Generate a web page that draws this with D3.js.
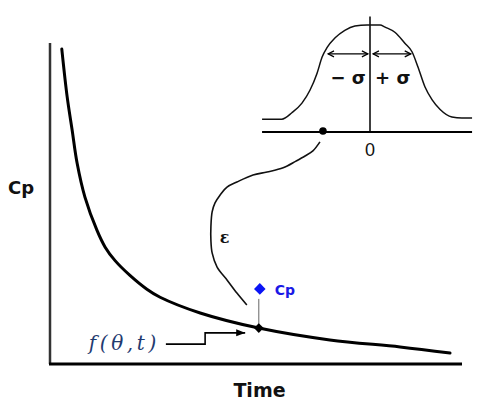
<!DOCTYPE html>
<html><head><meta charset="utf-8">
<script src="https://cdn.jsdelivr.net/npm/d3@7"></script>
<style>body{margin:0;background:#fff}svg{display:block}</style>
</head><body><svg id="chart" width="477" height="403"></svg>
<script>
// Concentration–time decay curve, the model f(θ,t)
const time    = [0.31,0.44,0.56,0.68,0.87,1.16,1.36,1.60,1.96,2.37,2.69,3.66,5.08,6.80,8.50,9.71];
const cpModel = [9.81,8.32,7.29,6.26,5.20,4.17,3.64,3.22,2.76,2.33,2.08,1.59,1.12,0.75,0.53,0.34];

// One observed Cp and its prediction on the curve
const obsTime = [5.08];
const obsCp   = [2.34];
const predCp  = [1.12];

// Residual error distribution, in σ units, with the sampled ε
const errZ       = [-2.57,-2.10,-1.86,-1.62,-1.43,-1.26,-1.14,-1.02,-0.83,-0.60,-0.36,-0.07,0.24,0.36,0.60,0.83,1.00,1.14,1.31,1.48,1.67,1.95,2.19,2.43];
const errDensity = [0.12,0.12,0.18,0.27,0.39,0.55,0.70,0.79,0.88,0.95,0.99,1.00,1.00,0.98,0.93,0.83,0.75,0.61,0.42,0.30,0.21,0.14,0.13,0.13];
const errPick    = [-1.12];
const sigmaLevel = [0.73];
const sigmaLabels = ["\u2212 \u03c3", "+ \u03c3"];
const zeroLabel  = ["0"];

// Path carrying ε from the distribution down to the observation
const epsTime = [6.56,6.39,6.20,5.98,5.67,5.28,4.94,4.55,4.31,4.14,4.02,3.95,3.92,3.92,3.95,4.07,4.31,4.55,4.79];
const epsCp   = [6.92,6.64,6.48,6.32,6.11,5.98,5.89,5.67,5.51,5.26,5.02,4.74,4.27,3.86,3.46,3.02,2.62,2.21,1.84];

// Callout from the f(θ,t) label to the predicted point
const calloutTime = [2.83,3.78,3.78,4.75];
const calloutCp   = [0.62,0.62,0.97,0.97];

const axisLabels = ["Cp", "Time"];

const svg = d3.select("#chart");
const x = d3.scaleLinear().domain([0,10]).range([49,462]);
const y = d3.scaleLinear().domain([0,10]).range([364,43]);

// inset scales for the error distribution
const zx = d3.scaleLinear().domain([-1,1]).range([328,412]);
const zy = d3.scaleLinear().domain([0,1]).range([132,25]);

svg.append("rect").attr("width",477).attr("height",403).attr("fill","#fff");

const defs = svg.append("defs");
defs.append("marker").attr("id","tri").attr("viewBox","0 -4 9 8")
  .attr("refX",9).attr("refY",0).attr("markerWidth",9).attr("markerHeight",8)
  .attr("markerUnits","userSpaceOnUse").attr("orient","auto")
  .append("path").attr("d","M0,-3.5L9,0L0,3.5Z").attr("fill","#000");
defs.append("marker").attr("id","chev").attr("viewBox","-1 -4 8 8")
  .attr("refX",6).attr("refY",0).attr("markerWidth",8).attr("markerHeight",8)
  .attr("markerUnits","userSpaceOnUse").attr("orient","auto-start-reverse")
  .append("path").attr("d","M0,-3L6,0L0,3").attr("fill","none").attr("stroke","#000").attr("stroke-width",1.2);

// axes (bare lines, no ticks)
svg.append("line").attr("x1",x(0)+1).attr("x2",x(0)+1).attr("y1",y(10)).attr("y2",y(0))
  .attr("stroke","#333").attr("stroke-width",2.5);
svg.append("line").attr("x1",x(0)).attr("x2",x(10)).attr("y1",y(0)).attr("y2",y(0))
  .attr("stroke","#000").attr("stroke-width",3);

// decay curve
const curve = d3.line().x((d,i)=>x(time[i])).y(d=>y(d)).curve(d3.curveCatmullRom.alpha(0.5));
svg.append("path").attr("d",curve(cpModel)).attr("fill","none")
  .attr("stroke","#000").attr("stroke-width",3).attr("stroke-linecap","round");

// ε path
const epsLine = d3.line().x((d,i)=>x(epsTime[i])).y(d=>y(d)).curve(d3.curveCatmullRom);
svg.append("path").attr("d",epsLine(epsCp)).attr("fill","none")
  .attr("stroke","#111").attr("stroke-width",1.6);
svg.append("text").attr("x",x(4.25)).attr("y",y(3.76))
  .attr("text-anchor","middle").attr("font-family","DejaVu Serif").attr("font-weight","bold")
  .attr("font-size",16).attr("fill","#111").text("\u03b5");

// observation stick, observed and predicted points
obsTime.forEach((t,i)=>{
  svg.append("line").attr("x1",x(t)).attr("x2",x(t))
    .attr("y1",y(obsCp[i])+10).attr("y2",y(predCp[i]))
    .attr("stroke","#666").attr("stroke-width",1);
  svg.append("path").attr("transform",`translate(${x(t)},${y(predCp[i])})`)
    .attr("d",d3.symbol(d3.symbolDiamond2,60)).attr("fill","#000");
  svg.append("path").attr("transform",`translate(${x(t)+1},${y(obsCp[i])})`)
    .attr("d",d3.symbol(d3.symbolDiamond2,85)).attr("fill","#0a14f5");
  svg.append("text").attr("x",x(t)+16).attr("y",y(obsCp[i])+6)
    .attr("font-family","DejaVu Sans").attr("font-weight","bold").attr("font-size",14)
    .attr("fill","#1a1ae6").text("Cp");
});

// f(θ,t) callout
const callout = d3.line().x((d,i)=>x(calloutTime[i])).y(d=>y(d));
svg.append("path").attr("d",callout(calloutCp)).attr("fill","none")
  .attr("stroke","#000").attr("stroke-width",1.6).attr("marker-end","url(#tri)");
svg.append("text").attr("x",x(2.83)-6).attr("y",y(0.62)+6).attr("text-anchor","end")
  .attr("font-family","DejaVu Serif").attr("font-style","italic").attr("font-size",20)
  .attr("letter-spacing",3.6).attr("fill","#1f3b70")
  .text("f(\u03b8,t)");

// axis titles
svg.append("text").attr("x",8).attr("y",194)
  .attr("font-family","DejaVu Sans").attr("font-weight","bold").attr("font-size",18)
  .attr("fill","#111").text(axisLabels[0]);
svg.append("text").attr("x",(x(0)+x(10))/2+4).attr("y",397).attr("text-anchor","middle")
  .attr("font-family","DejaVu Sans").attr("font-weight","bold").attr("font-size",19)
  .attr("fill","#111").text(axisLabels[1]);

// inset: error distribution
const inset = svg.append("g");
inset.append("line").attr("x1",zx(-2.57)).attr("x2",zx(2.43)).attr("y1",zy(0)).attr("y2",zy(0))
  .attr("stroke","#000").attr("stroke-width",1.8);
inset.append("line").attr("x1",zx(0)).attr("x2",zx(0)).attr("y1",zy(1.08)).attr("y2",zy(0))
  .attr("stroke","#000").attr("stroke-width",1.5);
const bell = d3.line().x((d,i)=>zx(errZ[i])).y(d=>zy(d)).curve(d3.curveMonotoneX);
inset.append("path").attr("d",bell(errDensity)).attr("fill","none")
  .attr("stroke","#111").attr("stroke-width",1.5);
// ±σ spans
[[-1,-0.05],[0.07,0.97]].forEach(s=>{
  inset.append("line").attr("x1",zx(s[0])).attr("x2",zx(s[1]))
    .attr("y1",zy(sigmaLevel[0])).attr("y2",zy(sigmaLevel[0]))
    .attr("stroke","#000").attr("stroke-width",1.2)
    .attr("marker-start","url(#chev)").attr("marker-end","url(#chev)");
});
inset.append("text").attr("x",zx(-0.1)).attr("y",84).attr("text-anchor","end")
  .attr("font-family","DejaVu Sans").attr("font-weight","bold").attr("font-size",18)
  .attr("fill","#111").text(sigmaLabels[0]);
inset.append("text").attr("x",zx(0.12)).attr("y",84).attr("text-anchor","start")
  .attr("font-family","DejaVu Sans").attr("font-weight","bold").attr("font-size",18)
  .attr("fill","#111").text(sigmaLabels[1]);
inset.append("text").attr("x",zx(0)).attr("y",156).attr("text-anchor","middle")
  .attr("font-family","Liberation Sans").attr("font-size",18)
  .attr("fill","#111").text(zeroLabel[0]);
inset.append("circle").attr("cx",zx(errPick[0])).attr("cy",zy(0)-1).attr("r",3.8).attr("fill","#000");
</script></body></html>
